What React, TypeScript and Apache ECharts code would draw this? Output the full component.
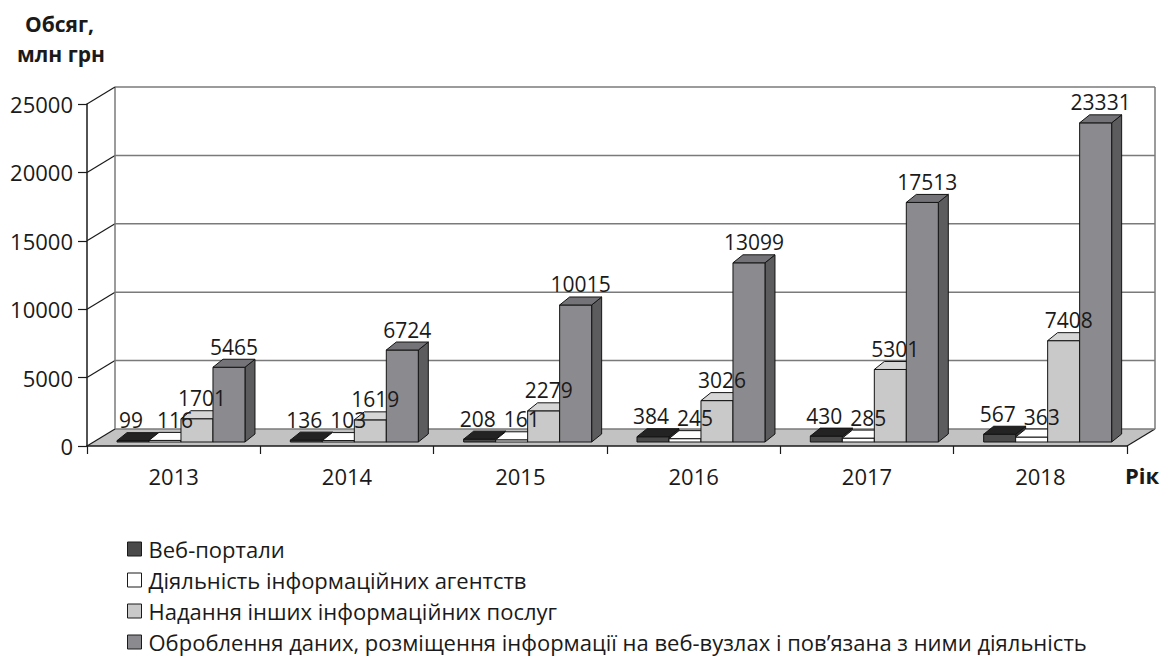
import React, { useEffect, useRef } from "react";
import * as echarts from "echarts";

const years = ["2013", "2014", "2015", "2016", "2017", "2018"];
const webPortals = [99, 136, 208, 384, 430, 567];
const newsAgencies = [116, 103, 161, 245, 285, 363];
const otherInfoServices = [1701, 1619, 2279, 3026, 5301, 7408];
const dataProcessing = [5465, 6724, 10015, 13099, 17513, 23331];
const yTicks = [0, 5000, 10000, 15000, 20000, 25000];
const seriesNames = [
  "Веб-портали",
  "Діяльність інформаційних агентств",
  "Надання інших інформаційних послуг",
  "Оброблення даних, розміщення інформації на веб-вузлах і пов’язана з ними діяльність",
];
const allSeries = [webPortals, newsAgencies, otherInfoServices, dataProcessing];

const FONT = "'Open Sans', 'Noto Sans', sans-serif";
const faceColors = [
  { front: "#4a4a4a", top: "#232323", side: "#333333" },
  { front: "#ffffff", top: "#ffffff", side: "#f0f0f0" },
  { front: "#c9c9c9", top: "#d6d6d6", side: "#a6a6a6" },
  { front: "#8b8b8f", top: "#747478", side: "#5c5c5e" },
];
const labelShift = [-2, 10, 5, 5];

const DEPTH_X = 28;
const DEPTH_Y = 17;
const BAR_DX = 10;
const BAR_DY = 8;

function barGeom(api: any, k: number) {
  const cat = api.value(0);
  const base = api.coord([cat, 0]);
  const topP = api.coord([cat, api.value(1)]);
  const bw = api.size([1, 0])[0];
  const barW = bw * 0.1846;
  const left = base[0] - bw / 2 + bw * 0.173 + k * barW;
  const yb = base[1] - 4;
  const yt = topP[1] - 4;
  return { left, barW, yb, yt };
}

function makeBarRender(k: number) {
  return (params: any, api: any) => {
    const { left, barW, yb, yt } = barGeom(api, k);
    const c = faceColors[k];
    const stroke = "#141414";
    const r = left + barW;
    return {
      type: "group",
      children: [
        {
          type: "polygon",
          shape: { points: [[r, yt], [r + BAR_DX, yt - BAR_DY], [r + BAR_DX, yb - BAR_DY], [r, yb]] },
          style: { fill: c.side, stroke, lineWidth: 1 },
        },
        {
          type: "rect",
          shape: { x: left, y: yt, width: barW, height: yb - yt },
          style: { fill: c.front, stroke, lineWidth: 1 },
        },
        {
          type: "polygon",
          shape: { points: [[left, yt], [r, yt], [r + BAR_DX, yt - BAR_DY], [left + BAR_DX, yt - BAR_DY]] },
          style: { fill: c.top, stroke, lineWidth: 1 },
        },
      ],
    };
  };
}

function frameRender(params: any, api: any) {
  const v = api.value(1);
  const n = years.length;
  const bw = api.size([1, 0])[0];
  const p0 = api.coord([0, 0]);
  const leftX = p0[0] - bw / 2;
  const rightX = api.coord([n - 1, 0])[0] + bw / 2;
  const y0 = p0[1];
  const y = api.coord([0, v])[1];
  const children: any[] = [];
  if (v === 0) {
    children.push({
      type: "polygon",
      shape: { points: [[leftX, y0], [rightX, y0], [rightX + DEPTH_X, y0 - DEPTH_Y], [leftX + DEPTH_X, y0 - DEPTH_Y]] },
      style: { fill: "#c2c2c2", stroke: null },
    });
    children.push({
      type: "line",
      shape: { x1: rightX, y1: y0, x2: rightX + DEPTH_X, y2: y0 - DEPTH_Y },
      style: { stroke: "#1a1a1a", lineWidth: 1.2 },
    });
  }
  if (v === yTicks[yTicks.length - 1]) {
    children.push({
      type: "line",
      shape: { x1: leftX + DEPTH_X, y1: y0 - DEPTH_Y, x2: leftX + DEPTH_X, y2: y - DEPTH_Y },
      style: { stroke: "#7a7a7a", lineWidth: 1.5 },
    });
    children.push({
      type: "line",
      shape: { x1: rightX + DEPTH_X, y1: y0 - DEPTH_Y, x2: rightX + DEPTH_X, y2: y - DEPTH_Y },
      style: { stroke: "#7a7a7a", lineWidth: 1.5 },
    });
  }
  children.push({
    type: "line",
    shape: { x1: leftX + DEPTH_X, y1: y - DEPTH_Y, x2: rightX + DEPTH_X, y2: y - DEPTH_Y },
    style: { stroke: "#7a7a7a", lineWidth: 1.5 },
  });
  children.push({
    type: "line",
    shape: { x1: leftX, y1: y, x2: leftX + DEPTH_X, y2: y - DEPTH_Y },
    style: { stroke: "#1a1a1a", lineWidth: 1.2 },
  });
  return { type: "group", children };
}

function labelRender(params: any, api: any) {
  const k = api.value(2);
  const { left, barW, yt } = barGeom(api, k);
  return {
    type: "text",
    style: {
      text: String(api.value(1)),
      x: left + barW / 2 + BAR_DX / 2 + labelShift[k] - 5,
      y: yt - BAR_DY - 2,
      textAlign: "center",
      textVerticalAlign: "bottom",
      font: `21px ${FONT}`,
      fill: "#1a1a1a",
    },
  };
}

export default function App() {
  const ref = useRef<HTMLDivElement>(null);
  useEffect(() => {
    if (!ref.current) return;
    const chart = echarts.init(ref.current, undefined, { renderer: "svg" });
    const labelData: any[] = [];
    allSeries.forEach((arr, k) => arr.forEach((v, i) => labelData.push([i, v, k])));
    const legends = seriesNames.map((name, k) => ({
      orient: "vertical",
      left: 127,
      top: 538 + 31 * k,
      padding: 0,
      itemWidth: 14,
      itemHeight: 14,
      icon: "rect",
      selectedMode: false,
      textStyle: { fontSize: 22, color: "#1a1a1a", fontFamily: FONT, padding: [0, 0, 0, 2] },
      data: [
        {
          name,
          itemStyle: { color: faceColors[k].front, borderColor: "#1a1a1a", borderWidth: 1 },
        },
      ],
    }));
    const option: any = {
      animation: false,
      textStyle: { fontFamily: FONT },
      grid: { left: 87, right: 44, top: 104, bottom: 213, containLabel: false },
      xAxis: {
        type: "category",
        data: years,
        z: 5,
        axisLine: { lineStyle: { color: "#1a1a1a", width: 1.5 } },
        axisTick: { show: true, length: 8, lineStyle: { color: "#1a1a1a", width: 1.2 } },
        axisLabel: { fontSize: 22, color: "#1a1a1a", margin: 19, fontFamily: FONT },
        splitLine: { show: false },
      },
      yAxis: {
        type: "value",
        min: 0,
        max: 25000,
        interval: 5000,
        z: 5,
        axisLine: { show: true, lineStyle: { color: "#1a1a1a", width: 1.5 } },
        axisTick: { show: true, length: 9, lineStyle: { color: "#1a1a1a", width: 1.2 } },
        axisLabel: {
          fontSize: 22,
          color: "#1a1a1a",
          margin: 14,
          fontFamily: FONT,
          formatter: (v: number) => String(v),
        },
        splitLine: { show: false },
      },
      legend: legends,
      graphic: [
        { type: "text", left: 25, top: 13, style: { text: "Обсяг,", font: `bold 21px ${FONT}`, fill: "#1a1a1a" } },
        { type: "text", left: 17, top: 43, style: { text: "млн грн", font: `bold 21px ${FONT}`, fill: "#1a1a1a" } },
        { type: "text", left: 1125, top: 464, style: { text: "Рік", font: `bold 22px ${FONT}`, fill: "#1a1a1a" } },
      ],
      series: [
        {
          type: "custom",
          name: "frame",
          z: 1,
          silent: true,
          encode: { x: 0, y: 1 },
          data: yTicks.map((v) => [0, v]),
          renderItem: frameRender,
        },
        ...allSeries.map((arr, k) => ({
          type: "custom",
          name: seriesNames[k],
          z: 3,
          itemStyle: { color: faceColors[k].front },
          encode: { x: 0, y: 1 },
          data: arr.map((v, i) => [i, v]),
          renderItem: makeBarRender(k),
        })),
        {
          type: "custom",
          name: "labels",
          z: 6,
          silent: true,
          encode: { x: 0, y: 1 },
          data: labelData,
          renderItem: labelRender,
        },
      ],
    };
    chart.setOption(option);
    return () => chart.dispose();
  }, []);
  return (
    <div
      ref={ref}
      style={{ position: "absolute", left: 0, top: 0, width: 1171, height: 659, background: "#fff" }}
    />
  );
}
